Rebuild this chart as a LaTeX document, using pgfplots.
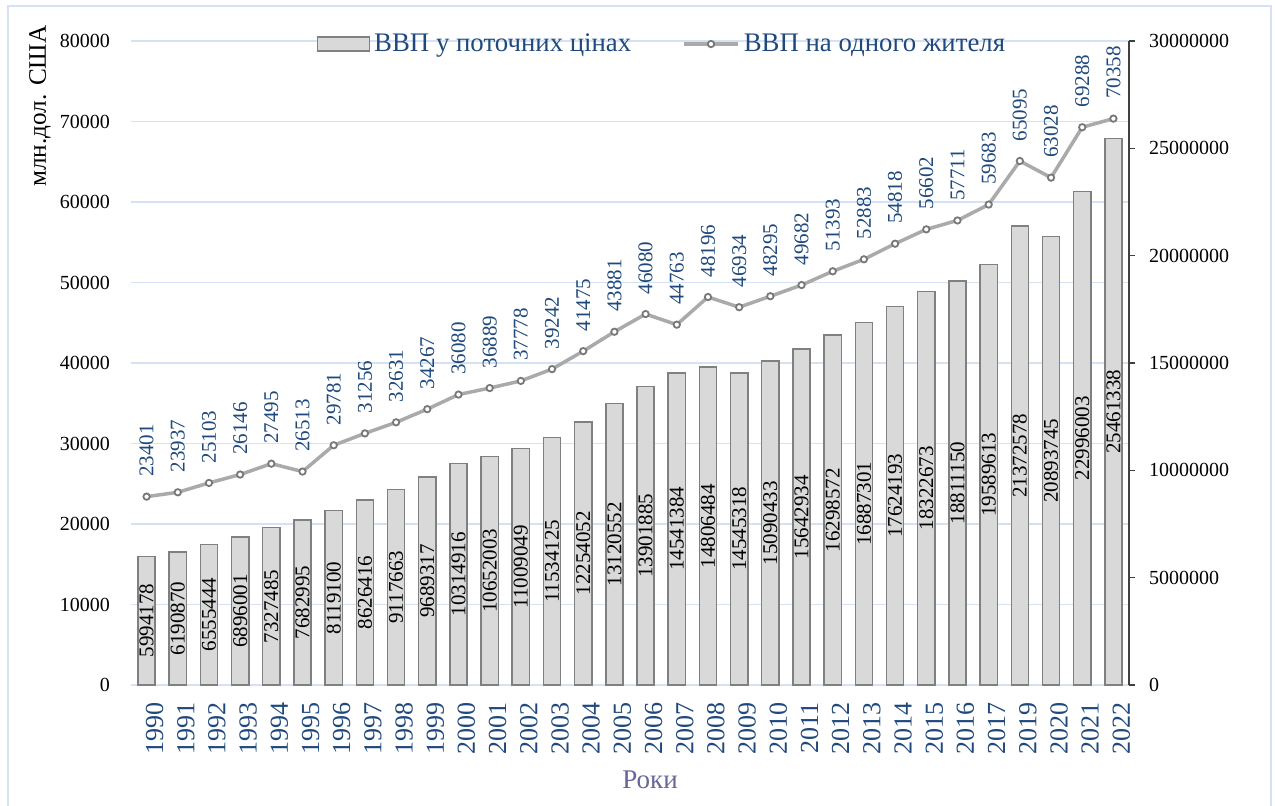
\documentclass[border=0pt]{standalone}
\usepackage{fontspec}
\setmainfont{Liberation Serif}
\usepackage{pgfplots}
\usepackage{pgfplotstable}
\pgfplotsset{compat=1.18}

\definecolor{gridblue}{RGB}{214,226,243}
\definecolor{txtblue}{RGB}{31,73,125}
\definecolor{barfill}{RGB}{217,217,217}
\definecolor{baredge}{RGB}{128,128,128}
\definecolor{linegray}{RGB}{170,170,170}
\definecolor{mkgray}{RGB}{120,120,120}
\definecolor{rokicol}{RGB}{102,102,153}

% years, GDP in current prices (right axis), GDP per capita (left axis)
\pgfplotstableread{
idx year gdp pc
0 1990 5994178 23401
1 1991 6190870 23937
2 1992 6555444 25103
3 1993 6896001 26146
4 1994 7327485 27495
5 1995 7682995 26513
6 1996 8119100 29781
7 1997 8626416 31256
8 1998 9117663 32631
9 1999 9689317 34267
10 2000 10314916 36080
11 2001 10652003 36889
12 2002 11009049 37778
13 2003 11534125 39242
14 2004 12254052 41475
15 2005 13120552 43881
16 2006 13901885 46080
17 2007 14541384 44763
18 2008 14806484 48196
19 2009 14545318 46934
20 2010 15090433 48295
21 2011 15642934 49682
22 2012 16298572 51393
23 2013 16887301 52883
24 2014 17624193 54818
25 2015 18322673 56602
26 2016 18811150 57711
27 2017 19589613 59683
28 2019 21372578 65095
29 2020 20893745 63028
30 2021 22996003 69288
31 2022 25461338 70358
}\datatable

\pgfplotsset{
  base/.style={
    scale only axis, width=499pt, height=322pt,
    at={(0pt,0pt)}, anchor=south west,
    xmin=-0.5, xmax=31.5,
    /pgf/number format/assume math mode=true,
  },
  barleg/.style={legend image code/.code={%
    \draw[##1] (0pt,-3.5pt) rectangle (26pt,3.5pt);}},
  lineleg/.style={legend image code/.code={%
    \draw[mark repeat=2, mark phase=2, ##1]
      plot coordinates {(0pt,0pt) (13.5pt,0pt) (27pt,0pt)};}},
}

\begin{document}
\begin{tikzpicture}
\useasboundingbox (-65.5pt,-60pt) rectangle (572pt,342.5pt);
\draw[gridblue, line width=1pt] (-61.5pt,-62.5pt) rectangle (570pt,339.5pt);

% left axis: grid, tick labels, years
\begin{axis}[base,
  ymin=0, ymax=80000, ytick={0,10000,...,80000},
  scaled y ticks=false,
  axis y line*=left, y axis line style={draw=none},
  axis x line*=bottom, x axis line style={-, gridblue, line width=0.75pt},
  ymajorgrids, grid style={gridblue, line width=0.75pt},
  major tick length=0pt,
  xtick={0,...,31}, xticklabels from table={\datatable}{year},
  xticklabel style={rotate=90, anchor=east, text=txtblue,
    font=\fontsize{13}{15}\selectfont, yshift=-4pt, xshift=-5pt},
  yticklabel style={font=\fontsize{10}{12}\selectfont,
    /pgf/number format/fixed, /pgf/number format/precision=0,
    /pgf/number format/1000 sep={}, xshift=-7pt},
]
\addplot[draw=none] coordinates {(0,0)};
\end{axis}

% right axis: bars
\begin{axis}[base,
  ymin=0, ymax=30000000,
  ytick={0,5000000,10000000,15000000,20000000,25000000,30000000},
  scaled y ticks=false,
  axis y line*=right, axis x line=none,
  y axis line style={-, black!75, line width=0.75pt},
  ytick style={black!75, line width=0.75pt},
  tick align=outside, major tick length=3pt,
  yticklabel style={font=\fontsize{10}{12}\selectfont, xshift=3.5pt,
    /pgf/number format/fixed, /pgf/number format/precision=0,
    /pgf/number format/1000 sep={}},
]
\addplot[ybar, bar shift=0pt, bar width=8.6pt, fill=barfill, draw=baredge,
  line width=0.75pt] table[x=idx, y=gdp] {\datatable};
\addplot[draw=none, mark=none, nodes near coords, point meta=explicit symbolic,
  nodes near coords style={rotate=90, anchor=center, inner sep=0pt,
    font=\fontsize{10.5}{12}\selectfont, text=black}]
  table[x=idx, y expr=\thisrow{gdp}/2, meta=gdp] {\datatable};
\end{axis}

% left axis again: per capita line and legend
\begin{axis}[base,
  ymin=0, ymax=80000, hide axis,
  legend style={at={(0.533,0.9953)}, anchor=center, draw=none, fill=none,
    legend columns=2, font=\fontsize{13.4}{15}\selectfont, text=txtblue,
    inner sep=0pt,
    /tikz/every even column/.append style={column sep=23.5pt}},
  legend cell align=left,
]
\addlegendimage{barleg, fill=barfill, draw=baredge, line width=0.75pt}
\addlegendentry{ВВП у поточних цінах}
\addplot[lineleg, linegray, line width=1.75pt, mark=*, mark size=1.6pt,
  mark options={fill=white, draw=mkgray, line width=0.9pt},
  nodes near coords, point meta=explicit symbolic,
  nodes near coords style={rotate=90, anchor=west, inner xsep=9.5pt,
    inner ysep=0pt, font=\fontsize{10.5}{12}\selectfont, text=txtblue}]
  table[x=idx, y=pc, meta=pc] {\datatable};
\addlegendentry{ВВП на одного жителя}
\end{axis}

\node[rotate=90, font=\fontsize{12.6}{14}\selectfont] at (-45.5pt,289.5pt) {млн.дол. США};
\node[text=rokicol, font=\fontsize{13.5}{15}\selectfont] at (259.5pt,-47.5pt) {Роки};
\end{tikzpicture}
\end{document}
